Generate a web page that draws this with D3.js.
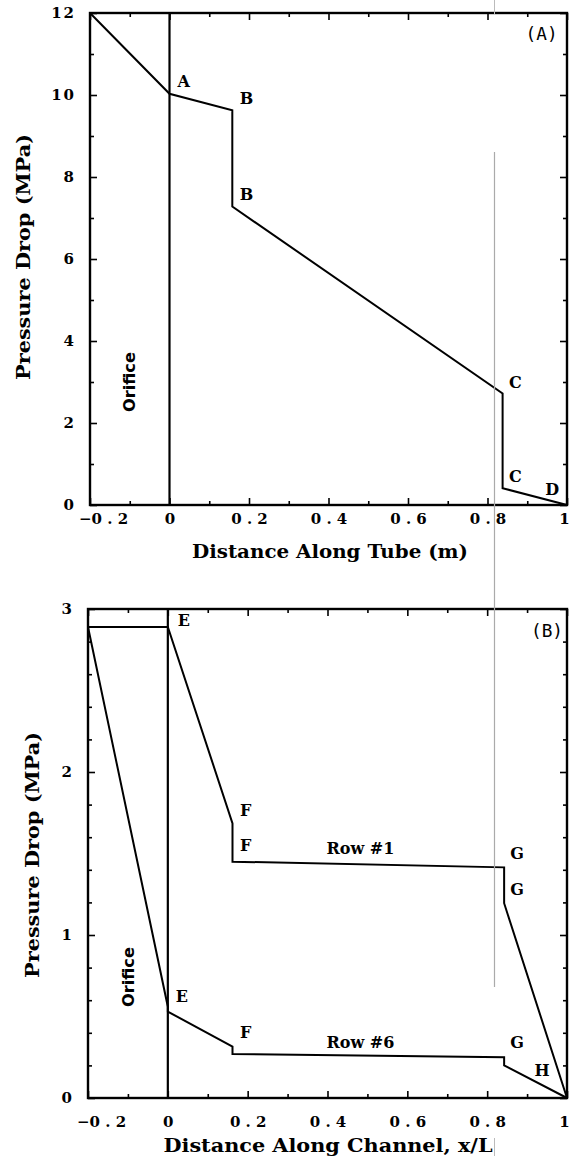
<html lang="en"><head>
<meta http-equiv="Content-Type" content="text/html; charset=UTF-8">
<title>Pressure Drop</title>
<script type="text/javascript" src="https://cdn.jsdelivr.net/npm/d3@7/dist/d3.min.js"></script>
<style type="text/css">
body { margin: 0; background: #fff; }
svg { display: block; }
</style>
</head>
<body>

<script type="text/javascript">

var width = 571;
var height = 1158;

// x ticks (shared by both panels)
var xMajor = [-0.2, 0, 0.2, 0.4, 0.6, 0.8, 1];
var xMinor = [-0.1, 0.1, 0.3, 0.5, 0.7, 0.9];

// panel A : tube
var tubeYMajor = [0, 2, 4, 6, 8, 10, 12];
var tubeYMinor = [1, 3, 5, 7, 9, 11];
var tubeX = [-0.2, 0, 0.158, 0.158, 0.838, 0.838, 1];
var tubeP = [12, 10.03, 9.63, 7.28, 2.72, 0.41, 0];
var tubeLabels = [
  {t: "A", x: 0.036, p: 10.34},
  {t: "B", x: 0.194, p: 9.93},
  {t: "B", x: 0.194, p: 7.59},
  {t: "C", x: 0.870, p: 3.0},
  {t: "C", x: 0.870, p: 0.71},
  {t: "D", x: 0.963, p: 0.39}
];

// panel B : channel, row #1 and row #6
var chanYMajor = [0, 1, 2, 3];
var chanYMinor = [0.2, 0.4, 0.6, 0.8, 1.2, 1.4, 1.6, 1.8, 2.2, 2.4, 2.6, 2.8];
var row1X = [-0.2, 0, 0.162, 0.162, 0.8425, 0.8425, 1];
var row1P = [2.89, 2.89, 1.685, 1.45, 1.415, 1.195, 0];
var row6X = [-0.2, 0, 0, 0.162, 0.162, 0.8425, 0.8425, 1];
var row6P = [2.89, 0.56, 0.53, 0.315, 0.27, 0.25, 0.2, 0];
var chanLabels = [
  {t: "E", x: 0.04, p: 2.93},
  {t: "F", x: 0.195, p: 1.767},
  {t: "F", x: 0.195, p: 1.552},
  {t: "Row #1", x: 0.4825, p: 1.534},
  {t: "G", x: 0.875, p: 1.503},
  {t: "G", x: 0.875, p: 1.282},
  {t: "E", x: 0.035, p: 0.626},
  {t: "F", x: 0.195, p: 0.405},
  {t: "Row #6", x: 0.4825, p: 0.344},
  {t: "G", x: 0.875, p: 0.344},
  {t: "H", x: 0.9375, p: 0.172}
];

var serif = "'DejaVu Serif', 'Liberation Serif', serif";

var svg = d3.select("body")
            .append("svg")
            .attr("width", width)
            .attr("height", height);

svg.append("rect").attr("width", width).attr("height", height).attr("fill", "#fff");

function xLabel(d){
  if (d === 0) return "0";
  if (d === 1) return "1";
  var s = d3.format(".1f")(Math.abs(d)).split("").join(" ");
  return (d < 0 ? "\u2212" : "") + s;
}

function drawPanel(cfg){
  var x = d3.scaleLinear().domain([-0.2, 1]).range([cfg.left, cfg.right]);
  var y = d3.scaleLinear().domain([0, cfg.yMax]).range([cfg.bottom, cfg.top]);
  var g = svg.append("g");

  // ticks on all four sides, pointing in
  function addAxis(axis, tx, ty, labels){
    var a = g.append("g")
      .attr("transform", "translate(" + tx + "," + ty + ")")
      .call(axis);
    a.select(".domain").remove();
    a.selectAll("line").attr("stroke", "#000").attr("stroke-width", 1.6);
    if (!labels) a.selectAll("text").remove();
    return a;
  }

  var bottomAx = addAxis(d3.axisBottom(x).tickValues(xMajor).tickSize(-7)
      .tickPadding(cfg.xPad).tickFormat(xLabel), 0, cfg.bottom, true);
  bottomAx.selectAll("text")
    .attr("font-family", serif).attr("font-weight", "bold").attr("font-size", 15)
    .attr("fill", "#000")
    .attr("dx", function(d){ return d < 0 ? 13 : (d === 1 ? -3 : 0); });
  addAxis(d3.axisBottom(x).tickValues(xMinor).tickSize(-4), 0, cfg.bottom, false);
  addAxis(d3.axisTop(x).tickValues(xMajor).tickSize(-7), 0, cfg.top, false);
  addAxis(d3.axisTop(x).tickValues(xMinor).tickSize(-4), 0, cfg.top, false);

  var leftAx = addAxis(d3.axisLeft(y).tickValues(cfg.yMajor).tickSize(-7)
      .tickPadding(cfg.yPad).tickFormat(d3.format("d")), cfg.left, 0, true);
  leftAx.selectAll("text")
    .attr("font-family", serif).attr("font-weight", "bold").attr("font-size", 15)
    .attr("letter-spacing", 2).attr("fill", "#000");
  addAxis(d3.axisLeft(y).tickValues(cfg.yMinor).tickSize(-4), cfg.left, 0, false);
  addAxis(d3.axisRight(y).tickValues(cfg.yMajor).tickSize(-7), cfg.right, 0, false);
  addAxis(d3.axisRight(y).tickValues(cfg.yMinor).tickSize(-4), cfg.right, 0, false);

  // frame
  g.append("rect")
    .attr("x", cfg.left).attr("y", cfg.top)
    .attr("width", cfg.right - cfg.left).attr("height", cfg.bottom - cfg.top)
    .attr("fill", "none").attr("stroke", "#000").attr("stroke-width", 2.4);

  // orifice exit line at x = 0
  g.append("line")
    .attr("x1", x(0)).attr("x2", x(0))
    .attr("y1", y(0)).attr("y2", y(cfg.yMax))
    .attr("stroke", "#000").attr("stroke-width", 2.2);

  var line = d3.line()
    .x(function(d){ return x(d[0]); })
    .y(function(d){ return y(d[1]); });

  cfg.series.forEach(function(s){
    g.append("path")
      .datum(d3.zip(s[0], s[1]))
      .attr("d", line)
      .attr("fill", "none")
      .attr("stroke", "#000")
      .attr("stroke-width", 2)
      .attr("stroke-linejoin", "miter");
  });

  g.selectAll(".pt")
    .data(cfg.labels).enter()
    .append("text")
    .attr("x", function(d){ return x(d.x); })
    .attr("y", function(d){ return y(d.p); })
    .attr("dy", "0.36em")
    .attr("text-anchor", "middle")
    .attr("font-family", serif)
    .attr("font-weight", "bold")
    .attr("font-size", 16)
    .attr("fill", "#000")
    .text(function(d){ return d.t; });

  // "Orifice" vertical label
  g.append("text")
    .attr("transform", "translate(" + x(cfg.orifice[0]) + "," + y(cfg.orifice[1]) + ") rotate(-90)")
    .attr("text-anchor", "middle")
    .attr("dy", "0.36em")
    .attr("font-family", "'DejaVu Sans', sans-serif")
    .attr("font-weight", "bold")
    .attr("font-size", 15)
    .attr("textLength", 60).attr("lengthAdjust", "spacingAndGlyphs")
    .text("Orifice");

  // panel tag
  g.append("text")
    .attr("x", x(cfg.tag[1])).attr("y", y(cfg.tag[2]))
    .attr("dy", "0.36em")
    .attr("text-anchor", "middle")
    .attr("font-family", "'DejaVu Sans Mono', monospace")
    .attr("font-size", 18)
    .attr("textLength", 32).attr("lengthAdjust", "spacingAndGlyphs")
    .text(cfg.tag[0]);

  // axis titles
  g.append("text")
    .attr("x", cfg.xTitle[1]).attr("y", cfg.xTitle[2])
    .attr("dy", "0.36em")
    .attr("text-anchor", "middle")
    .attr("font-family", serif).attr("font-weight", "bold").attr("font-size", 18)
    .attr("textLength", cfg.xTitle[3]).attr("lengthAdjust", "spacingAndGlyphs")
    .text(cfg.xTitle[0]);

  g.append("text")
    .attr("transform", "translate(" + cfg.yTitle[0] + "," + cfg.yTitle[1] + ") rotate(-90)")
    .attr("dy", "0.36em")
    .attr("text-anchor", "middle")
    .attr("font-family", serif).attr("font-weight", "bold").attr("font-size", 18)
    .attr("textLength", 246).attr("lengthAdjust", "spacingAndGlyphs")
    .text("Pressure Drop (MPa)");
}

drawPanel({
  left: 90, right: 567, top: 13, bottom: 505, yMax: 12,
  yMajor: tubeYMajor, yMinor: tubeYMinor,
  xPad: 8, yPad: 14,
  series: [[tubeX, tubeP]],
  labels: tubeLabels,
  orifice: [-0.1, 3.0],
  tag: ["(A)", 0.936, 11.51],
  xTitle: ["Distance Along Tube (m)", 330, 552, 276],
  yTitle: [24, 257]
});

drawPanel({
  left: 88, right: 567, top: 609, bottom: 1098, yMax: 3,
  yMajor: chanYMajor, yMinor: chanYMinor,
  xPad: 18, yPad: 14,
  series: [[row1X, row1P], [row6X, row6P]],
  labels: chanLabels,
  orifice: [-0.0975, 0.742],
  tag: ["(B)", 0.95, 2.87],
  xTitle: ["Distance Along Channel, x/L", 328, 1146, 329],
  yTitle: [33, 855]
});

// faint scanner streak running down through both panels
svg.append("line")
  .attr("x1", 494.5).attr("x2", 494.5).attr("y1", 152).attr("y2", 987)
  .attr("stroke", "#aaa").attr("stroke-width", 1.2);
svg.append("line")
  .attr("x1", 494.5).attr("x2", 494.5).attr("y1", 0).attr("y2", 14)
  .attr("stroke", "#bbb").attr("stroke-width", 1);
svg.append("line")
  .attr("x1", 494.5).attr("x2", 494.5).attr("y1", 1138).attr("y2", 1156)
  .attr("stroke", "#bbb").attr("stroke-width", 1);

</script>
</body></html>
